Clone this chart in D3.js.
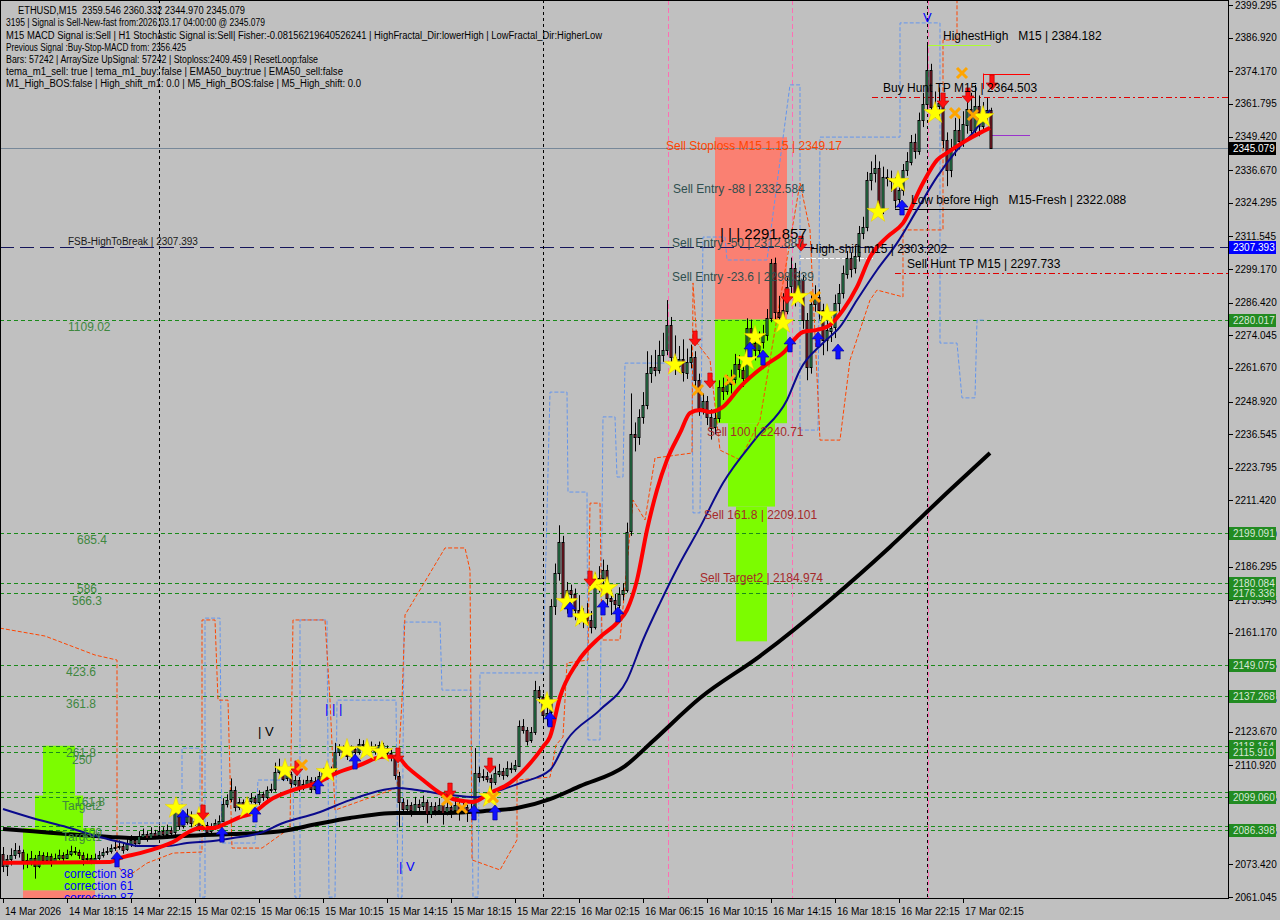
<!DOCTYPE html>
<html><head><meta charset="utf-8">
<script src="https://cdn.jsdelivr.net/npm/d3@7/dist/d3.min.js"></script>
<style>
html,body{margin:0;padding:0;background:#c0c0c0;}
svg{display:block;}
text{font-family:"Liberation Sans",Arial,sans-serif;white-space:pre;}
</style></head><body>
<svg id="chart" width="1280" height="920"></svg>
<script>
// ---------------- DATA ----------------
const timeLabels = ["14 Mar 2026","14 Mar 18:15","14 Mar 22:15","15 Mar 02:15","15 Mar 06:15","15 Mar 10:15","15 Mar 14:15","15 Mar 18:15","15 Mar 22:15","16 Mar 02:15","16 Mar 06:15","16 Mar 10:15","16 Mar 14:15","16 Mar 18:15","16 Mar 22:15","17 Mar 02:15"];
const timeLabelBars = [0,16,32,48,64,80,96,112,128,144,160,176,192,208,224,240];
const priceTicks = [2399.295,2386.920,2374.170,2361.795,2349.420,2336.670,2324.295,2311.545,2299.170,2286.420,2274.045,2261.670,2248.920,2236.545,2223.795,2211.420,2198.670,2186.295,2173.545,2161.170,2148.795,2136.045,2123.670,2110.920,2098.545,2085.795,2073.420,2061.045];

const opens = [2077.5,2073.0,2075.5,2077.0,2079.0,2078.0,2075.0,2074.0,2076.0,2073.0,
2077.0,2075.0,2076.5,2075.0,2076.0,2077.0,2076.0,2077.5,2078.5,2078.0,
2077.0,2075.5,2076.0,2075.0,2076.0,2077.0,2078.0,2078.5,2079.5,2080.0,
2080.5,2079.0,2081.0,2082.5,2081.5,2084.0,2085.0,2083.5,2085.5,2084.5,
2086.0,2085.0,2086.5,2085.5,2094.0,2088.0,2089.5,2092.0,2089.0,2090.0,
2087.5,2088.5,2086.0,2087.5,2089.0,2090.0,2096.5,2098.0,2101.5,2095.0,
2097.0,2095.5,2097.5,2098.5,2097.0,2100.0,2099.0,2101.5,2102.0,2108.5,
2110.0,2106.0,2107.5,2104.0,2105.5,2102.5,2104.0,2105.5,2102.0,2105.0,
2107.0,2108.5,2107.0,2109.0,2116.0,2117.5,2116.0,2114.5,2117.0,2116.0,
2119.0,2118.5,2117.0,2118.0,2116.5,2118.5,2117.5,2115.5,2114.0,2107.0,
2097.0,2094.5,2096.0,2094.0,2096.5,2095.5,2097.0,2092.5,2095.5,2094.0,
2096.0,2093.0,2095.0,2094.0,2096.0,2093.5,2095.0,2093.5,2094.5,2108.0,
2106.5,2107.0,2106.0,2104.5,2108.0,2109.0,2107.5,2110.0,2109.5,2111.0,
2126.0,2124.5,2120.5,2123.5,2139.5,2137.0,2130.0,2131.0,2171.3,2184.0,
2195.7,2173.7,2177.5,2176.0,2169.9,2166.5,2167.5,2166.0,2163.5,2180.0,
2182.0,2185.0,2174.5,2173.5,2172.0,2176.0,2177.5,2199.6,2236.5,2235.5,
2243.0,2247.6,2259.7,2262.0,2261.0,2266.5,2268.5,2278.0,2265.8,2262.5,
2265.0,2260.0,2264.0,2265.8,2257.1,2246.5,2249.0,2243.0,2239.0,2242.5,
2254.4,2253.0,2255.5,2257.5,2263.0,2261.0,2257.8,2277.0,2271.0,2268.5,
2271.5,2274.0,2280.6,2301.5,2283.0,2281.0,2283.5,2292.5,2299.5,2288.5,
2295.0,2279.8,2262.0,2286.0,2288.5,2283.6,2272.3,2276.0,2277.0,2286.2,
2290.0,2297.5,2303.5,2299.5,2304.0,2312.9,2315.0,2332.9,2335.6,2337.5,
2322.0,2334.0,2333.5,2332.9,2325.4,2329.0,2336.7,2340.0,2347.4,2344.0,
2355.7,2361.7,2374.5,2360.5,2361.0,2362.0,2348.0,2336.7,2345.0,2352.0,
2348.0,2354.0,2360.0,2352.0,2361.0,2353.5,2358.0,2359.546];

const highs = [2080.0,2077.0,2079.5,2081.5,2080.5,2079.0,2077.5,2078.5,2077.0,2078.5,
2078.0,2078.0,2077.5,2077.5,2079.0,2078.0,2079.0,2080.5,2080.0,2079.0,
2078.0,2077.5,2077.0,2077.5,2078.5,2079.5,2080.0,2081.0,2082.0,2082.5,
2081.5,2083.0,2084.5,2083.5,2086.0,2087.0,2086.0,2087.5,2086.5,2088.0,
2087.5,2088.5,2087.5,2097.5,2096.0,2093.0,2094.5,2093.5,2091.5,2091.0,
2090.0,2089.5,2089.0,2090.5,2092.0,2098.5,2100.0,2106.0,2103.0,2098.5,
2098.0,2099.0,2100.5,2099.5,2101.5,2101.0,2103.0,2104.0,2112.0,2113.5,
2111.0,2109.5,2108.5,2107.0,2106.5,2105.5,2107.0,2106.5,2106.5,2108.5,
2110.0,2109.5,2110.5,2119.5,2119.0,2118.5,2117.5,2118.5,2118.0,2121.0,
2120.5,2119.5,2120.0,2119.0,2120.0,2119.5,2118.5,2117.0,2115.0,2108.5,
2098.5,2098.0,2097.0,2099.0,2098.0,2099.5,2098.0,2097.0,2097.0,2098.5,
2097.0,2097.5,2096.5,2098.5,2097.0,2097.0,2096.0,2097.5,2117.5,2110.5,
2109.5,2108.5,2107.5,2110.5,2111.5,2110.0,2112.5,2112.0,2113.0,2128.0,
2128.5,2125.5,2125.5,2143.0,2141.0,2138.0,2134.0,2174.0,2187.5,2202.0,
2198.0,2180.5,2179.5,2178.0,2175.5,2170.5,2172.5,2169.5,2184.0,2186.5,
2189.0,2187.0,2177.5,2176.0,2178.5,2180.0,2203.0,2252.0,2241.0,2246.0,
2252.5,2268.0,2266.5,2268.5,2272.0,2275.0,2287.4,2281.0,2274.0,2270.0,
2272.5,2269.0,2270.5,2268.0,2259.5,2252.0,2251.0,2246.0,2245.5,2257.0,
2258.0,2259.0,2261.0,2267.0,2266.5,2264.0,2280.5,2280.0,2275.0,2275.5,
2278.0,2284.0,2303.0,2303.5,2289.0,2290.0,2296.0,2303.5,2301.5,2298.5,
2297.0,2282.5,2290.5,2293.0,2291.5,2286.0,2279.5,2281.0,2289.5,2293.5,
2300.5,2306.0,2305.5,2307.5,2315.5,2319.0,2336.0,2340.0,2342.5,2340.0,
2338.0,2337.0,2336.5,2334.0,2332.0,2339.0,2343.5,2350.0,2350.5,2358.5,
2366.0,2384.182,2377.0,2366.5,2368.0,2365.0,2351.0,2348.5,2356.5,2357.0,
2359.0,2364.0,2366.0,2369.0,2365.0,2362.5,2364.0,2360.332];

const lows = [2070.5,2069.0,2073.0,2075.5,2076.0,2071.5,2072.0,2073.0,2068.0,2072.0,
2073.5,2074.0,2072.5,2074.0,2075.0,2074.5,2075.5,2076.5,2077.0,2075.5,
2073.0,2074.5,2073.5,2074.0,2075.0,2076.0,2077.0,2077.5,2078.5,2079.0,
2077.5,2078.5,2080.0,2080.0,2081.0,2083.0,2082.0,2083.0,2083.0,2084.0,
2084.0,2084.5,2084.5,2084.5,2086.5,2087.0,2088.5,2087.5,2088.0,2086.0,
2086.5,2084.5,2085.0,2086.5,2088.0,2089.5,2095.0,2097.0,2093.5,2094.0,
2094.0,2094.5,2096.5,2095.5,2096.0,2097.5,2098.0,2100.5,2101.0,2107.5,
2105.0,2105.0,2102.5,2103.0,2101.0,2101.5,2103.0,2100.5,2101.0,2104.0,
2106.0,2105.5,2106.0,2108.0,2114.5,2114.5,2113.0,2113.5,2114.5,2115.0,
2117.0,2115.5,2116.0,2115.0,2115.5,2116.0,2114.0,2112.5,2105.5,2087.5,
2092.5,2093.0,2091.5,2092.5,2093.0,2094.0,2089.0,2091.0,2092.0,2093.0,
2088.5,2092.0,2091.0,2093.0,2090.0,2092.5,2089.5,2092.5,2094.0,2104.5,
2105.0,2104.5,2100.5,2103.5,2106.5,2105.5,2106.5,2108.0,2108.5,2110.5,
2123.0,2118.5,2119.5,2122.5,2134.5,2127.5,2126.0,2129.5,2168.0,2181.0,
2170.5,2168.5,2170.0,2166.0,2164.5,2163.0,2164.0,2161.0,2162.5,2176.5,
2179.5,2171.5,2168.0,2168.5,2170.5,2173.5,2176.5,2198.0,2230.0,2232.5,
2240.5,2246.0,2256.0,2258.5,2259.5,2264.0,2266.5,2261.0,2259.0,2260.0,
2256.5,2257.5,2261.5,2254.0,2243.5,2244.0,2240.0,2234.5,2236.5,2241.0,
2249.5,2251.5,2252.0,2255.5,2258.0,2254.5,2256.5,2267.5,2264.5,2266.0,
2269.0,2272.0,2279.0,2280.0,2276.5,2278.5,2282.0,2290.0,2285.0,2286.5,
2276.5,2257.0,2259.5,2283.0,2280.0,2266.5,2268.0,2271.5,2273.0,2283.0,
2288.0,2295.5,2296.0,2297.5,2302.0,2310.5,2313.5,2329.0,2332.0,2321.0,
2320.0,2330.5,2328.5,2322.088,2322.5,2327.0,2334.5,2338.5,2341.0,2342.5,
2353.0,2359.5,2357.0,2356.5,2357.0,2345.0,2330.6,2334.0,2342.0,2344.5,
2345.5,2350.5,2349.0,2350.0,2349.5,2351.0,2355.0,2344.970];

const closes = [2073.0,2075.5,2077.0,2079.0,2078.0,2075.0,2074.0,2076.0,2073.0,2077.0,
2075.0,2076.5,2075.0,2076.0,2077.0,2076.0,2077.5,2078.5,2078.0,2077.0,
2075.5,2076.0,2075.0,2076.0,2077.0,2078.0,2078.5,2079.5,2080.0,2080.5,
2079.0,2081.0,2082.5,2081.5,2084.0,2085.0,2083.5,2085.5,2084.5,2086.0,
2085.0,2086.5,2085.5,2094.0,2088.0,2089.5,2092.0,2089.0,2090.0,2087.5,
2088.5,2086.0,2087.5,2089.0,2090.0,2096.5,2098.0,2101.5,2095.0,2097.0,
2095.5,2097.5,2098.5,2097.0,2100.0,2099.0,2101.5,2102.0,2108.5,2110.0,
2106.0,2107.5,2104.0,2105.5,2102.5,2104.0,2105.5,2102.0,2105.0,2107.0,
2108.5,2107.0,2109.0,2116.0,2117.5,2116.0,2114.5,2117.0,2116.0,2119.0,
2118.5,2117.0,2118.0,2116.5,2118.5,2117.5,2115.5,2114.0,2107.0,2097.0,
2094.5,2096.0,2094.0,2096.5,2095.5,2097.0,2092.5,2095.5,2094.0,2096.0,
2093.0,2095.0,2094.0,2096.0,2093.5,2095.0,2093.5,2094.5,2108.0,2106.5,
2107.0,2106.0,2104.5,2108.0,2109.0,2107.5,2110.0,2109.5,2111.0,2126.0,
2124.5,2120.5,2123.5,2139.5,2137.0,2130.0,2131.0,2171.3,2184.0,2195.7,
2173.7,2177.5,2176.0,2169.9,2166.5,2167.5,2166.0,2163.5,2180.0,2182.0,
2185.0,2174.5,2173.5,2172.0,2176.0,2177.5,2199.6,2236.5,2235.5,2243.0,
2247.6,2259.7,2262.0,2261.0,2266.5,2268.5,2278.0,2265.8,2262.5,2265.0,
2260.0,2264.0,2265.8,2257.1,2246.5,2249.0,2243.0,2239.0,2242.5,2254.4,
2253.0,2255.5,2257.5,2263.0,2261.0,2257.8,2277.0,2271.0,2268.5,2271.5,
2274.0,2280.6,2301.5,2283.0,2281.0,2283.5,2292.5,2299.5,2288.5,2295.0,
2279.8,2262.0,2286.0,2288.5,2283.6,2272.3,2276.0,2277.0,2286.2,2290.0,
2297.5,2303.5,2299.5,2304.0,2312.9,2315.0,2332.9,2335.6,2337.5,2322.0,
2334.0,2333.5,2332.9,2325.4,2329.0,2336.7,2340.0,2347.4,2344.0,2355.7,
2361.7,2374.5,2360.5,2361.0,2362.0,2348.0,2336.7,2345.0,2352.0,2348.0,
2354.0,2360.0,2352.0,2361.0,2353.5,2358.0,2359.546,2345.079];

// indicator lines: [bar, price]
const emaFast = [[0,2074.0],[26.75,2074.3],[29.25,2075.8],[34.25,2077.7],[39.25,2080.0],[42.5,2081.9],[46,2085.3],[49.25,2087.2],[52.5,2087.2],[56,2089.1],[59.25,2091.3],[62.5,2092.9],[66.75,2097.8],[72.5,2101.6],[78.5,2104.3],[83.5,2108.1],[89.25,2111.1],[95,2114.2],[98.5,2114.2],[101,2110.4],[105,2105.4],[109.25,2100.5],[113.5,2097.8],[117.5,2097.1],[121.75,2100.5],[126.75,2104.3],[131,2110.4],[135,2118.0],[136.75,2121.8],[139.25,2136.9],[143.5,2149.8],[149.25,2159.6],[153.5,2165.0],[156,2169.9],[158.5,2181.2],[161,2200.2],[163.5,2215.4],[166,2226.8],[169.25,2237.0],[171.75,2244.6],[174.25,2245.7],[176.75,2245.0],[180,2246.9],[184.25,2254.4],[190,2262.1],[195,2267.3],[200,2275.3],[203.5,2276.1],[206.75,2278.0],[210,2283.6],[213.5,2292.4],[216.75,2303.7],[221,2311.3],[225,2316.6],[230,2331.8],[233.5,2340.5],[236,2343.2],[241,2348.1],[244.25,2350.8],[246.75,2352.7]];
const emaMid = [[0,2094.4],[7.5,2090.9],[16,2087.5],[24.25,2083.8],[29.25,2081.9],[34.25,2080.4],[41,2080.4],[46,2081.5],[52.5,2082.3],[57.5,2083.4],[64.25,2085.3],[70,2089.1],[78.5,2092.9],[86.75,2097.8],[95,2101.6],[98.5,2102.4],[103.5,2101.6],[111.75,2099.7],[118.5,2098.9],[124.25,2101.6],[130,2104.6],[136.75,2109.2],[141,2120.6],[149.25,2132.0],[156,2143.3],[160,2158.5],[164.25,2172.5],[169.25,2187.7],[174.25,2201.3],[180,2218.0],[188.5,2235.5],[196,2249.5],[199.25,2260.9],[205,2271.1],[209.25,2277.2],[213.5,2287.4],[218.5,2298.8],[223.5,2309.0],[228.5,2321.6],[233.5,2334.1],[238.5,2344.3],[242.5,2350.8],[246.75,2359.5]];
const maSlow = [[0,2086.8],[7.5,2086.0],[16,2084.9],[26.75,2083.8],[32.5,2083.4],[41,2083.8],[49.25,2084.5],[57.5,2084.9],[64.25,2085.3],[70,2086.1],[78.5,2088.7],[86.75,2091.0],[98.5,2092.9],[111.75,2092.9],[120,2093.6],[128.5,2094.8],[136.75,2098.2],[144.25,2103.1],[155.5,2110.7],[162.5,2120.2],[174.25,2136.5],[189.25,2152.4],[206.75,2173.7],[221.75,2193.8],[236.75,2215.4],[246.75,2229.4]];
const orangeBand = [[-0.75,2163.0],[10.5,2160.0],[23,2152.8],[28.5,2150.9],[28.5,2073.2],[31,2068.6],[36,2073.9],[42.5,2077.7],[49.75,2078.1],[49.75,2166.1],[53,2166.1],[53.75,2135.7],[56.25,2135.7],[57.25,2079.6],[64.75,2079.6],[71.75,2087.2],[72.5,2166.1],[80.5,2166.1],[81.75,2135.7],[83,2094.0],[98.5,2102.4],[99.75,2135.7],[100.5,2168.0],[110.5,2193.4],[115.5,2193.4],[116.75,2185.0],[117.25,2075.1],[124.25,2071.3],[128.5,2082.7],[128.5,2105.4],[136.75,2106.5],[138.25,2118.7],[140,2121.7],[141,2149.8],[146.25,2150.9],[146.75,2210.4],[149.25,2210.4],[149.75,2158.5],[154.25,2158.5],[157.5,2211.6],[160.5,2204.0],[163,2227.5],[172.25,2229.4],[172.5,2293.9],[173.5,2271.1],[176.75,2264.7],[179.25,2230.5],[184.25,2226.8],[189.25,2241.9],[193,2276.1],[199.25,2331.8],[201.75,2314.0],[204.25,2234.3],[209.25,2234.3],[211.75,2264.7],[216.75,2287.4],[218.5,2291.2],[225,2288.6],[225,2314.0],[235,2314.0],[235,2386.0],[238.5,2386.0],[238.5,2401.0]];
const blueBand = [[29.25,2089.1],[44.75,2089.1],[44.75,2117.5],[49.25,2117.5],[49.25,2061.0],[50.5,2061.0],[50.5,2166.8],[54.25,2166.8],[54.75,2081.5],[63,2081.5],[63.75,2105.4],[72.5,2105.4],[73,2061.0],[74.25,2061.0],[74.25,2166.1],[81,2166.1],[81.5,2061.0],[83,2061.0],[83.5,2135.7],[98.25,2135.7],[98.75,2061.0],[99.75,2061.0],[100.25,2165.3],[109.25,2165.3],[109.75,2139.5],[117,2139.5],[117.5,2061.0],[118.75,2061.0],[119.25,2146.0],[135,2146.0],[136.75,2252.5],[141,2252.5],[141.25,2214.6],[146,2214.6],[146.25,2120.6],[149.25,2120.6],[150,2243.1],[153,2243.1],[153.5,2220.3],[155,2220.3],[155.5,2263.5],[172.25,2263.5],[172.5,2206.7],[174.25,2206.7],[175,2311.3],[180.5,2311.3],[181,2302.6],[191,2302.6],[196.75,2369.0],[199.25,2369.0],[199.25,2238.1],[203.75,2238.1],[204.25,2349.2],[224.25,2349.2],[224.25,2392.5],[234.25,2392.5],[234.25,2271.1],[238.5,2271.1],[239.75,2250.3],[243,2250.3],[243.5,2279.8],[245.5,2279.8]];

// signal markers: [bar, price]
const stars = [[43.25,2094.8],[49,2091.0],[61,2094.8],[70.5,2109.2],[81,2108.4],[86,2116.8],[91,2116.8],[94.75,2116.0],[121.75,2098.9],[136,2134.6],[141,2172.9],[144.75,2167.2],[148,2180.1],[151,2178.2],[168,2262.8],[186,2264.7],[188,2273.4],[195,2278.7],[198.75,2288.6],[206,2281.7],[218.75,2320.8],[223.75,2332.2],[233,2358.3],[245,2356.8]];
const buyArrows = [[28.5,2075.1],[45,2091.0],[54.75,2084.5],[63,2092.1],[78.75,2102.8],[88,2112.2],[117.75,2092.9],[123,2092.9],[136.75,2128.2],[141.75,2169.9],[150,2170.6],[153.75,2168.0],[186.75,2268.5],[190,2265.4],[196.75,2270.4],[203.75,2272.3],[208.75,2267.7],[224.75,2322.3]];
const sellArrows = [[50,2093.3],[73.5,2110.0],[98.75,2114.9],[111.75,2101.6],[121.75,2111.1],[146.75,2182.0],[173,2273.0],[176.75,2257.1],[196,2289.0],[199.5,2309.0],[235,2363.3],[241.25,2365.2],[247.25,2370.1]];
const crosses = [[74.75,2111.1],[111,2097.8],[114.75,2094.8],[122.5,2098.9],[173.75,2253.3],[181.75,2257.1],[203,2288.6],[239.75,2373.5],[238,2358.3],[242.5,2357.6]];

// levels
const greenLevels = [2280.017,2199.091,2180.084,2176.336,2149.075,2137.268,2118.164,2115.910,2099.060,2086.398];
const greenLevelsExtra = [2101.0,2087.9];
const fsbLevel = 2307.393;
const lastPrice = 2345.079;
const daySeparatorBars = [39,135,231];
const pinkBars = [166,197,231];

// zones: [barFrom, barTo, priceTop, priceBottom]
const salmonZones = [[178,196,2349.17,2280.017],[5,23,2063.6,2058.0]];
const limeZones = [[178,196,2280.017,2240.71],[181.25,193,2240.71,2209.101],[183.25,191,2209.101,2158.0],[10,18,2118.4,2099.5],[8,20,2099.5,2087.2],[5,23,2087.2,2063.6]];

// segments: [barFrom, barTo, price]
const highestHigh = [231,247,2384.182];
const lowBeforeHigh = [223,247,2322.088];
const buyHuntTP = [217.25,306.25,2364.503];
const sellHuntTP = [223,306.25,2297.733];
const highShift = [199.25,217.5,2303.202];
const purpleSeg = [246.75,256.75,2350.0];
const redBoxTop = [245,256.75,2373.3];
const redBoxSide = [245,2373.3,2367.4];

// chart texts: [bar, price, text, colour, font size]
const zoneTexts = [
 [165.75,2344.3,"Sell Stoploss M15 1.15 | 2349.17","#ff4500",12],
 [167.5,2328.0,"Sell Entry -88 | 2332.584","#2f4f4f",12],
 [167.25,2307.5,"Sell Entry -50 | 2312.887","#2f4f4f",12],
 [167.25,2294.6,"Sell Entry -23.6 | 2298.339","#2f4f4f",12],
 [179.25,2310.6,"| | | 2291.857","#000000",15],
 [201.75,2305.3,"High-shift m15 | 2303.202","#000000",12],
 [226,2299.6,"Sell Hunt TP M15 | 2297.733","#000000",12],
 [220,2366.3,"Buy Hunt TP M15 | 2364.503","#000000",12],
 [235,2386.0,"HighestHigh   M15 | 2384.182","#000000",12],
 [227,2323.8,"Low before High   M15-Fresh | 2322.088","#000000",12],
 [176,2235.9,"Sell 100 | 2240.71","#a52a2a",12],
 [175.25,2204.4,"Sell 161.8 | 2209.101","#a52a2a",12],
 [174.25,2180.5,"Sell Target2 | 2184.974","#a52a2a",12],
 [16.25,2308.3,"FSB-HighToBreak | 2307.393","#1a1a1a",10],
 [63.75,2122.1,"| V","#000000",13],
 [80.5,2130.8,"| | |","#0000ff",13],
 [99,2070.9,"| V","#0000ff",13],
 [230,2392.9,"V","#0000ff",13]
];
const fibTexts = [
 [16.25,2275.7,"1109.02"],[18.5,2194.9,"685.4"],[18.5,2176.3,"586"],[17.25,2171.8,"566.3"],
 [15.75,2144.8,"423.6"],[15.75,2132.7,"361.8"],[15.75,2114.1,"261.8"],[17.25,2111.5,"250"],
 [14.75,2094.0,"Target2"],[18,2095.5,"161.8"],[14.75,2082.3,"Target1"],[19.75,2083.8,"100"]
];
const correctionTexts = [[15.25,2068.2,"correction 38"],[15.25,2063.7,"correction 61"],[15.25,2059.1,"correction 87"]];

const headerLines = [
 "ETHUSD,M15  2359.546 2360.332 2344.970 2345.079",
 "3195 | Signal is Sell-New-fast from:2026.03.17 04:00:00 @ 2345.079",
 "M15 MACD Signal is:Sell | H1 Stochastic Signal is:Sell| Fisher:-0.08156219640526241 | HighFractal_Dir:lowerHigh | LowFractal_Dir:HigherLow",
 "Previous Signal :Buy-Stop-MACD from: 2356.425",
 "Bars: 57242 | ArraySize UpSignal: 57242 | Stoploss:2409.459 | ResetLoop:false",
 "tema_m1_sell: true | tema_m1_buy: false | EMA50_buy:true | EMA50_sell:false",
 "M1_High_BOS:false | High_shift_m1: 0.0 | M5_High_BOS:false | M5_High_shift: 0.0"
];

// ---------------- LAYOUT ----------------
const plotRight = 1228, plotBottom = 898;
const headerLayout = [[18,14,227],[6,26,259],[6,39,596],[6,51,180],[6,63,312],[6,75,337],[6,87,355]];

const svg = d3.select("#chart");
svg.append("rect").attr("width",1280).attr("height",920).attr("fill","#c0c0c0");

const x = d3.scaleLinear().domain([-0.75,306.25]).range([0,1228]);
const y = d3.scaleLinear().domain([2061.045,2399.295]).range([897,5]);

svg.append("defs").append("clipPath").attr("id","plotclip")
  .append("rect").attr("x",0).attr("y",0).attr("width",plotRight).attr("height",plotBottom);
const g = svg.append("g").attr("clip-path","url(#plotclip)");

// zones
const zoneRect = (arr, color) => g.append("g").selectAll("rect").data(arr).join("rect")
  .attr("x",d=>x(d[0])).attr("width",d=>x(d[1])-x(d[0]))
  .attr("y",d=>y(d[2])).attr("height",d=>y(d[3])-y(d[2])).attr("fill",color);
zoneRect(salmonZones,"#fa8072");
zoneRect(limeZones,"#7cfc00");

// green levels
g.append("g").selectAll("line").data(greenLevels.concat(greenLevelsExtra)).join("line")
  .attr("x1",0).attr("x2",plotRight)
  .attr("y1",d=>Math.round(y(d))+0.5).attr("y2",d=>Math.round(y(d))+0.5)
  .attr("stroke","#1a8a1a").attr("stroke-width",1).attr("stroke-dasharray","4,3");

// last price line
g.append("line").attr("x1",0).attr("x2",plotRight)
  .attr("y1",Math.round(y(lastPrice))+0.5).attr("y2",Math.round(y(lastPrice))+0.5)
  .attr("stroke","#778899").attr("stroke-width",1);

// FSB line
g.append("line").attr("x1",0).attr("x2",plotRight)
  .attr("y1",Math.round(y(fsbLevel))+0.5).attr("y2",Math.round(y(fsbLevel))+0.5)
  .attr("stroke","#14145a").attr("stroke-width",1.2).attr("stroke-dasharray","14,6");

// day separators and pink verticals
g.append("g").selectAll("line").data(daySeparatorBars).join("line")
  .attr("x1",d=>x(d)+0.5).attr("x2",d=>x(d)+0.5).attr("y1",0).attr("y2",plotBottom)
  .attr("stroke","#000").attr("stroke-width",1).attr("stroke-dasharray","3,3");
g.append("g").selectAll("line").data(pinkBars).join("line")
  .attr("x1",d=>x(d)+1.5).attr("x2",d=>x(d)+1.5).attr("y1",0).attr("y2",plotBottom)
  .attr("stroke","#ff6eb4").attr("stroke-width",1).attr("stroke-dasharray","5,3");

// dashed bands
const bandLine = d3.line().x(d=>x(d[0])).y(d=>y(d[1]));
g.append("path").attr("d",bandLine(blueBand)).attr("fill","none")
  .attr("stroke","#6495ed").attr("stroke-width",1).attr("stroke-dasharray","4,2");
g.append("path").attr("d",bandLine(orangeBand)).attr("fill","none")
  .attr("stroke","#ff4500").attr("stroke-width",1).attr("stroke-dasharray","4,2");

// segments
const seg = (s,color,w,dash) => g.append("line").attr("x1",x(s[0])).attr("x2",x(s[1]))
  .attr("y1",Math.round(y(s[2]))+0.5).attr("y2",Math.round(y(s[2]))+0.5)
  .attr("stroke",color).attr("stroke-width",w).attr("stroke-dasharray",dash);
seg(highestHigh,"#adff2f",1,null);
seg(lowBeforeHigh,"#000",1,null);
seg(buyHuntTP,"#e00000",1,"6,3,2,3");
seg(sellHuntTP,"#e00000",1,"6,3,2,3");
seg(highShift,"#ffffff",1,"4,2");
seg(purpleSeg,"#9932cc",1,null);
seg(redBoxTop,"#ff0000",1,null);
g.append("line").attr("x1",x(redBoxSide[0])+0.5).attr("x2",x(redBoxSide[0])+0.5)
  .attr("y1",y(redBoxSide[1])).attr("y2",y(redBoxSide[2])).attr("stroke","#ff0000");

// slow MA
const maLine = d3.line().x(d=>x(d[0])).y(d=>y(d[1])).curve(d3.curveMonotoneX);
g.append("path").attr("d",maLine(maSlow)).attr("fill","none").attr("stroke","#000").attr("stroke-width",4);

// candles
const bars = d3.range(closes.length).map(i=>({i,o:opens[i],h:highs[i],l:lows[i],c:closes[i]}));
const cg = g.append("g");
cg.selectAll("line").data(bars).join("line")
  .attr("x1",d=>x(d.i)+0.5).attr("x2",d=>x(d.i)+0.5)
  .attr("y1",d=>y(d.h)).attr("y2",d=>y(d.l)).attr("stroke","#000").attr("stroke-width",1);
cg.selectAll("rect").data(bars).join("rect")
  .attr("x",d=>x(d.i)-1).attr("width",2)
  .attr("y",d=>Math.round(y(Math.max(d.o,d.c)))+0.5)
  .attr("height",d=>Math.max(1,Math.round(Math.abs(y(d.o)-y(d.c)))))
  .attr("fill",d=>d.c>=d.o?"#3cb371":"#b22234")
  .attr("stroke","#000").attr("stroke-width",1);

// EMA lines
g.append("path").attr("d",maLine(emaMid)).attr("fill","none").attr("stroke","#0a0a8c").attr("stroke-width",2);
g.append("path").attr("d",maLine(emaFast)).attr("fill","none").attr("stroke","#ff0000").attr("stroke-width",4);

// markers
const mg = g.append("g");
mg.selectAll("path.star").data(stars).join("path").attr("class","star")
  .attr("d",d3.symbol().type(d3.symbolStar).size(150)())
  .attr("transform",d=>`translate(${x(d[0])},${y(d[1])})`)
  .attr("fill","#ffff00").attr("stroke","#e6c800").attr("stroke-width",0.5);
const upArrow = "M0,-8 L6,-1 L2.2,-1 L2.2,7 L-2.2,7 L-2.2,-1 L-6,-1 Z";
mg.selectAll("path.buy").data(buyArrows).join("path").attr("class","buy")
  .attr("d",upArrow).attr("transform",d=>`translate(${x(d[0])},${y(d[1])})`)
  .attr("fill","#1010ff").attr("stroke","#00008b").attr("stroke-width",0.6);
mg.selectAll("path.sell").data(sellArrows).join("path").attr("class","sell")
  .attr("d",upArrow).attr("transform",d=>`translate(${x(d[0])},${y(d[1])}) scale(1,-1)`)
  .attr("fill","#ff1010").attr("stroke","#b00000").attr("stroke-width",0.6);
mg.selectAll("path.cross").data(crosses).join("path").attr("class","cross")
  .attr("d","M-5,-5 L5,5 M5,-5 L-5,5").attr("transform",d=>`translate(${x(d[0])},${y(d[1])})`)
  .attr("stroke","#ffa500").attr("stroke-width",3).attr("fill","none");

// chart texts
g.append("g").selectAll("text").data(zoneTexts).join("text")
  .attr("x",d=>x(d[0])).attr("y",d=>y(d[1]))
  .attr("fill",d=>d[3]).attr("font-size",d=>d[4]+"px").text(d=>d[2]);
g.append("g").selectAll("text").data(fibTexts).join("text")
  .attr("x",d=>x(d[0])).attr("y",d=>y(d[1]))
  .attr("fill","#3f873f").attr("font-size","12px").text(d=>d[2]);
g.append("g").selectAll("text").data(correctionTexts).join("text")
  .attr("x",d=>x(d[0])).attr("y",d=>y(d[1]))
  .attr("fill","#0000ff").attr("font-size","12px").text(d=>d[2]);

// header
svg.append("g").selectAll("text").data(headerLines).join("text")
  .attr("x",(d,i)=>headerLayout[i][0]).attr("y",(d,i)=>headerLayout[i][1])
  .attr("textLength",(d,i)=>headerLayout[i][2]).attr("lengthAdjust","spacingAndGlyphs")
  .attr("font-size","10px").attr("fill","#000").text(d=>d);

// frame / axes
svg.append("rect").attr("x",0.5).attr("y",0.5).attr("width",plotRight).attr("height",plotBottom)
  .attr("fill","none").attr("stroke","#000").attr("stroke-width",1);

const ax = svg.append("g");
ax.selectAll("line.pt").data(priceTicks).join("line").attr("class","pt")
  .attr("x1",plotRight+1).attr("x2",plotRight+5)
  .attr("y1",d=>Math.round(y(d))+0.5).attr("y2",d=>Math.round(y(d))+0.5).attr("stroke","#000");
ax.selectAll("text.pt").data(priceTicks).join("text").attr("class","pt")
  .attr("x",plotRight+7).attr("y",d=>y(d)+3.5)
  .attr("font-size","10px").attr("fill","#000").text(d=>d.toFixed(3));

const boxLabel = (p,fill,textFill) => {
  ax.append("rect").attr("x",plotRight+1).attr("y",Math.round(y(p))-6).attr("width",47).attr("height",13).attr("fill",fill);
  ax.append("text").attr("x",plotRight+5).attr("y",Math.round(y(p))+4)
    .attr("font-size","10px").attr("fill",textFill).text(p.toFixed(3));
};
greenLevels.forEach(p=>boxLabel(p,"#228b22","#d8e8d8"));
boxLabel(fsbLevel,"#0000ff","#ffffff");
boxLabel(lastPrice,"#000000","#ffffff");

ax.selectAll("line.tt").data(timeLabelBars).join("line").attr("class","tt")
  .attr("x1",d=>x(d)+0.5).attr("x2",d=>x(d)+0.5).attr("y1",plotBottom+1).attr("y2",plotBottom+5).attr("stroke","#000");
ax.selectAll("text.tt").data(timeLabels).join("text").attr("class","tt")
  .attr("x",(d,i)=>x(timeLabelBars[i])+2).attr("y",915)
  .attr("font-size","10px").attr("fill","#000").text(d=>d);
</script>
</body></html>
